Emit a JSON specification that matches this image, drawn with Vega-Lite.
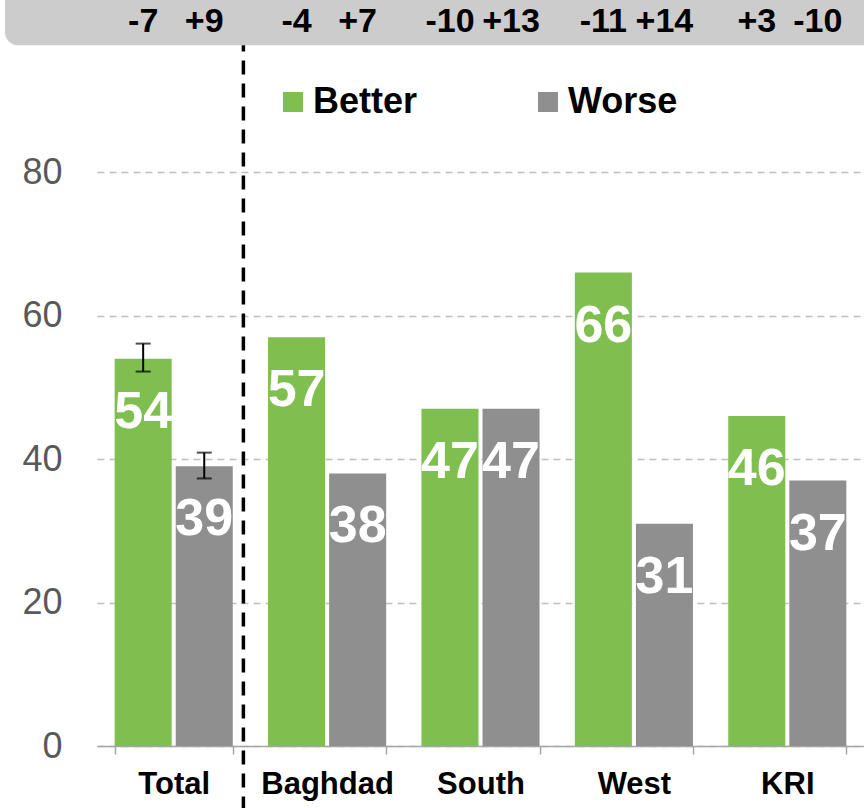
{
  "$schema": "https://vega.github.io/schema/vega-lite/v6.json",
  "width": 767,
  "height": 746,
  "autosize": {"type": "none"},
  "padding": {"left": 97, "top": 0, "right": 0, "bottom": 62},
  "config": {"font": "Liberation Sans", "view": {"stroke": null}},
  "data": {
    "values": [
      {"region": "Total", "series": "Better", "value": 54, "change": "-7", "lo": 52.2, "hi": 56.1},
      {"region": "Total", "series": "Worse", "value": 39, "change": "+9", "lo": 37.3, "hi": 40.9},
      {"region": "Baghdad", "series": "Better", "value": 57, "change": "-4"},
      {"region": "Baghdad", "series": "Worse", "value": 38, "change": "+7"},
      {"region": "South", "series": "Better", "value": 47, "change": "-10"},
      {"region": "South", "series": "Worse", "value": 47, "change": "+13"},
      {"region": "West", "series": "Better", "value": 66, "change": "-11"},
      {"region": "West", "series": "Worse", "value": 31, "change": "+14"},
      {"region": "KRI", "series": "Better", "value": 46, "change": "+3"},
      {"region": "KRI", "series": "Worse", "value": 37, "change": "-10"}
    ]
  },
  "layer": [
    {
      "data": {"values": [{}]},
      "mark": {"type": "rect", "color": "#cccccc", "cornerRadius": 13},
      "encoding": {
        "x": {"datum": -0.12, "type": "quantitative", "scale": {"domain": [0, 1]}, "axis": null},
        "x2": {"datum": 1.1},
        "y": {"datum": 97.7, "type": "quantitative", "scale": {"domain": [0, 104], "nice": false}},
        "y2": {"datum": 112}
      }
    },
    {
      "layer": [
        {
          "mark": {"type": "bar"},
          "encoding": {
            "x": {
              "field": "region", "type": "nominal",
              "sort": ["Total", "Baghdad", "South", "West", "KRI"],
              "scale": {"paddingInner": 0.23, "paddingOuter": 0.115},
              "axis": {"title": null, "labelFontSize": 31, "labelFontWeight": "bold", "labelColor": "#000000", "labelPadding": 15, "tickSize": 8, "tickColor": "#a6a6a6", "domainColor": "#a6a6a6", "domainWidth": 1.5, "tickWidth": 1.5, "tickBand": "extent", "labelAngle": 0}
            },
            "xOffset": {"field": "series", "type": "nominal", "sort": ["Better", "Worse"], "scale": {"paddingInner": 0.066, "paddingOuter": 0}},
            "y": {
              "field": "value", "type": "quantitative",
              "scale": {"domain": [0, 104], "nice": false},
              "axis": {"title": null, "values": [0, 20, 40, 60, 80], "grid": true, "gridDash": [7, 5], "gridColor": "#bfbfbf", "gridWidth": 1.5, "domain": false, "ticks": false, "labelFontSize": 36, "labelColor": "#595959", "labelPadding": 35}
            },
            "color": {
              "field": "series", "type": "nominal",
              "scale": {"domain": ["Better", "Worse"], "range": ["#7ebf50", "#8f8f8f"]},
              "legend": {"title": null, "orient": "none", "legendX": 178, "legendY": 84, "direction": "horizontal", "symbolType": "square", "symbolSize": 400, "symbolStrokeWidth": 0, "labelFontSize": 36, "labelFontWeight": "bold", "labelColor": "#000000", "labelOffset": 2, "columnPadding": 112}
            }
          }
        },
        {
          "mark": {"type": "text", "baseline": "alphabetic", "dy": 69, "fontSize": 52, "fontWeight": "bold", "color": "#ffffff"},
          "encoding": {
            "x": {"field": "region", "type": "nominal", "sort": ["Total", "Baghdad", "South", "West", "KRI"]},
            "xOffset": {"field": "series", "type": "nominal", "sort": ["Better", "Worse"]},
            "y": {"field": "value", "type": "quantitative"},
            "text": {"field": "value", "type": "quantitative"}
          }
        },
        {
          "mark": {"type": "text", "baseline": "middle", "fontSize": 34, "fontWeight": "bold", "color": "#000000"},
          "encoding": {
            "x": {"field": "region", "type": "nominal", "sort": ["Total", "Baghdad", "South", "West", "KRI"]},
            "xOffset": {"field": "series", "type": "nominal", "sort": ["Better", "Worse"]},
            "y": {"datum": 100.9, "type": "quantitative"},
            "text": {"field": "change", "type": "nominal"}
          }
        },
        {
          "transform": [{"filter": "datum.region === 'Total'"}],
          "mark": {"type": "rule", "color": "#000000", "strokeWidth": 2},
          "encoding": {
            "x": {"field": "region", "type": "nominal", "sort": ["Total", "Baghdad", "South", "West", "KRI"]},
            "xOffset": {"field": "series", "type": "nominal", "sort": ["Better", "Worse"]},
            "y": {"field": "lo", "type": "quantitative"},
            "y2": {"field": "hi"}
          }
        },
        {
          "transform": [{"filter": "datum.region === 'Total'"}],
          "mark": {"type": "tick", "color": "#000000", "thickness": 2, "size": 15, "orient": "horizontal"},
          "encoding": {
            "x": {"field": "region", "type": "nominal", "sort": ["Total", "Baghdad", "South", "West", "KRI"]},
            "xOffset": {"field": "series", "type": "nominal", "sort": ["Better", "Worse"]},
            "y": {"field": "lo", "type": "quantitative"}
          }
        },
        {
          "transform": [{"filter": "datum.region === 'Total'"}],
          "mark": {"type": "tick", "color": "#000000", "thickness": 2, "size": 15, "orient": "horizontal"},
          "encoding": {
            "x": {"field": "region", "type": "nominal", "sort": ["Total", "Baghdad", "South", "West", "KRI"]},
            "xOffset": {"field": "series", "type": "nominal", "sort": ["Better", "Worse"]},
            "y": {"field": "hi", "type": "quantitative"}
          }
        },
        {
          "data": {"values": [{}]},
          "mark": {"type": "rule", "color": "#000000", "strokeWidth": 3.5, "strokeDash": [14, 9]},
          "encoding": {
            "x": {"datum": "Total", "type": "nominal", "bandPosition": 1.09},
            "y": {"datum": -9, "type": "quantitative"},
            "y2": {"datum": 97.7}
          }
        }
      ]
    }
  ],
  "resolve": {"scale": {"x": "independent"}}
}
